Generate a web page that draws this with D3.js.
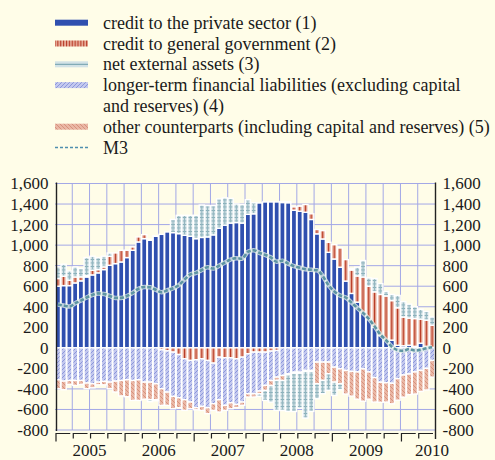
<!DOCTYPE html>
<html>
<head>
<meta charset="utf-8">
<script src="https://cdn.jsdelivr.net/npm/d3@7"></script>
<style>
  body { margin: 0; background: #fffde8; }
  svg { display: block; font-family: "Liberation Serif", "Times New Roman", serif; }
</style>
</head>
<body>
<div id="chart"></div>
<script>
// monthly annual flows, EUR billions, Jan 2005 - Jun 2010
let months = d3.timeMonth.range(new Date(2005, 0, 1), new Date(2010, 6, 1))
let yearLabels = [2005, 2006, 2007, 2008, 2009, 2010]
let yTicks = [-800, -600, -400, -200, 0, 200, 400, 600, 800, 1000, 1200, 1400, 1600]

let creditPrivate = [
  600, 606, 606, 632, 652, 690, 710, 730, 762, 804, 820, 836,
  879, 950, 1031, 1063, 1047, 1086, 1105, 1128, 1122, 1112, 1096, 1086,
  1063, 1075, 1080, 1100, 1165, 1195, 1215, 1220, 1215, 1300, 1305, 1410,
  1420, 1420, 1420, 1415, 1413, 1340, 1330, 1320, 1250, 1110, 1060, 930,
  865, 785, 650, 530, 445, 345, 280, 200, 120, 75, 75, 25,
  20, 25, 15, 45, 15, 5]
let creditGov = [
  75, 91, 52, 58, 39, 13, 45, 32, 26, 87, 104, 113,
  71, 32, 49, 39, 10, 5, -20, -30, -42, -65, -107, -123,
  -117, -107, -123, -149, -91, -97, -97, -107, -91, -58, -42, -42,
  -42, -32, -26, 10, 10, 32, 49, 75, 55, 42, 81, 97,
  139, 187, 209, 228, 255, 345, 320, 345, 400, 430, 385, 365,
  280, 265, 270, 235, 255, 215]
let netExternal = [
  113, 117, 91, 97, 81, 176, 137, 117, 104, 32, 0, 0,
  0, 0, 0, 0, -20, -10, 0, 0, 128, 178, 194, 204,
  227, 315, 305, 285, 285, 265, 240, 180, 180, 142, 107, -25,
  -97, -162, -292, -292, -356, -373, -340, -454, -389, -146, -130, -162,
  -130, -58, 0, 12, 85, 160, 80, 130, 105, 45, 60, 120,
  150, 135, 115, 95, 85, 80]
let longerTerm = [
  -311, -324, -318, -318, -318, -343, -350, -334, -327, -334, -324, -318,
  -311, -318, -311, -334, -334, -350, -378, -401, -431, -421, -398, -405,
  -466, -463, -460, -395, -414, -463, -438, -444, -437, -389, -405, -379,
  -324, -286, -259, -269, -253, -237, -237, -220, -220, -139, -139, -139,
  -188, -204, -220, -230, -235, -205, -235, -290, -335, -340, -345, -300,
  -265, -255, -235, -220, -200, -123]
let otherCp = [
  -87, -84, -38, -48, -38, -55, -39, -26, -33, -64, -106, -150,
  -165, -194, -201, -166, -170, -155, -162, -129, -120, -97, -104, -65,
  -20, -39, -58, -65, -120, -49, -58, -32, -32, -32, -32, -26,
  -49, -49, -32, -49, -10, -10, -10, -10, -10, -211, -178, -113,
  -146, -146, -230, -240, -265, -315, -265, -238, -195, -188, -200, -210,
  -215, -200, -215, -205, -210, -162]
let m3 = [
  421, 412, 402, 434, 460, 490, 515, 530, 525, 505, 486, 486,
  505, 535, 575, 592, 590, 565, 541, 560, 580, 610, 665, 715,
  730, 758, 785, 772, 800, 830, 860, 873, 868, 935, 950, 925,
  905, 880, 838, 849, 820, 795, 780, 765, 760, 755, 700, 610,
  550, 510, 490, 440, 390, 340, 282, 210, 130, 75, 10, -22,
  -30, -12, -26, -20, -5, 5]

let w = 495, h = 460
let padL = 55, padR = 435, plotTop = 183.5, plotBottom = 430

let table = months.map((m, i) => ({
  month: m,
  cps: creditPrivate[i], cgg: creditGov[i], nea: netExternal[i],
  ltfl: longerTerm[i], oth: otherCp[i]
}))

let svg = d3.select('#chart').append('svg')
  .attr('width', w).attr('height', h)
svg.append('rect').attr('width', w).attr('height', h).attr('fill', '#fffde8')

let x = d3.scaleBand().domain(months).range([padL, padR])
let y = d3.scaleLinear().domain([-800, 1600]).range([plotBottom, plotTop])
let step = x.step()

//#region patterns
let defs = svg.append('defs')
let pat = (id, pw, ph, px) => defs.append('pattern').attr('id', id)
  .attr('patternUnits', 'userSpaceOnUse')
  .attr('width', pw).attr('height', ph).attr('x', px || 0).attr('y', 0)

let p = pat('pCgg', step / 2, 4, padL + step / 2 - 0.55)
p.append('rect').attr('width', step / 2).attr('height', 4).attr('fill', '#e8ad9a')
p.append('rect').attr('width', 1.1).attr('height', 4).attr('fill', '#b83a26')

p = pat('pNea', step / 2, 3.5, padL + step / 2 - 0.5)
p.append('rect').attr('width', step / 2).attr('height', 3.5).attr('fill', '#d2e2e6')
p.append('rect').attr('width', step / 2).attr('height', 0.9).attr('fill', '#82abb6')
p.append('rect').attr('width', 1).attr('height', 3.5).attr('fill', '#92b5bf')

p = pat('pLtfl', 4, 4)
p.append('rect').attr('width', 4).attr('height', 4).attr('fill', '#c3c8ee')
p.append('path').attr('d', 'M-1,1L1,-1M0,4L4,0M3,5L5,3')
  .attr('stroke', '#6676cf').attr('stroke-width', 0.6)

p = pat('pOth', 4, 4)
p.append('rect').attr('width', 4).attr('height', 4).attr('fill', '#eab7a5')
p.append('path').attr('d', 'M-1,3L1,5M0,0L4,4M3,-1L5,1')
  .attr('stroke', '#c97762').attr('stroke-width', 0.6)
//#endregion

let fills = {
  cps: '#2f4faf', cgg: 'url(#pCgg)', nea: 'url(#pNea)',
  ltfl: 'url(#pLtfl)', oth: 'url(#pOth)'
}

//#region grid
svg.append('g').selectAll('line')
  .data(yTicks).enter().append('line')
  .attr('x1', padL).attr('x2', padR)
  .attr('y1', d => y(d)).attr('y2', d => y(d))
  .attr('stroke', '#a3a8e6').attr('stroke-width', 1)

let quarters = months.filter((m, i) => i % 3 === 0 && i > 0)
svg.append('g').selectAll('line')
  .data(quarters).enter().append('line')
  .attr('x1', d => x(d)).attr('x2', d => x(d))
  .attr('y1', plotTop).attr('y2', plotBottom)
  .attr('stroke', '#a3a8e6').attr('stroke-width', 1)
//#endregion

//#region bars
let stack = d3.stack()
  .keys(['cps', 'cgg', 'ltfl', 'oth', 'nea'])
  .offset(d3.stackOffsetDiverging)
let series = stack(table)

svg.append('g').selectAll('g')
  .data(series).enter().append('g')
  .attr('fill', s => fills[s.key])
  .selectAll('rect')
  .data(s => s.filter(d => d[1] !== d[0]))
  .enter().append('rect')
  .attr('x', d => x(d.data.month) + 0.3)
  .attr('width', step - 0.6)
  .attr('y', d => y(d[1]))
  .attr('height', d => y(d[0]) - y(d[1]))
  .attr('stroke', '#fff')
  .attr('stroke-width', 1.4)
//#endregion

//#region M3 line
let line = d3.line()
  .x((d, i) => x(months[i]) + step / 2)
  .y(d => y(d))
  .curve(d3.curveMonotoneX)

svg.append('path')
  .attr('d', line(m3))
  .attr('fill', 'none')
  .attr('stroke', '#e4efe9')
  .attr('stroke-width', 4.5)
  .attr('opacity', 0.8)
svg.append('path')
  .attr('d', line(m3))
  .attr('fill', 'none')
  .attr('stroke', '#5e95a3')
  .attr('stroke-width', 2.6)
  .attr('stroke-dasharray', '4,2')
//#endregion

//#region axes
let fmt = d => d3.format(',')(d).replace('\u2212', '-')
let yAxisL = d3.axisLeft(y).tickValues(yTicks).tickFormat(fmt).tickSize(0).tickPadding(8)
let yAxisR = d3.axisRight(y).tickValues(yTicks).tickFormat(fmt).tickSize(0).tickPadding(7)

let gl = svg.append('g').attr('transform', 'translate(56.5,0)').call(yAxisL)
let gr = svg.append('g').attr('transform', `translate(${padR + 0.5},0)`).call(yAxisR)
;[gl, gr].forEach(g => {
  g.select('.domain').remove()
  g.selectAll('text')
    .attr('font-family', '"Liberation Serif", "Times New Roman", serif')
    .attr('font-size', 17)
    .attr('fill', '#1a1a1a')
})
svg.append('line').attr('x1', 56.5).attr('x2', 56.5).attr('y1', plotTop - 1).attr('y2', plotBottom + 1)
  .attr('stroke', '#222').attr('stroke-width', 1.4)
svg.append('line').attr('x1', padR + 0.5).attr('x2', padR + 0.5).attr('y1', plotTop - 1).attr('y2', 439)
  .attr('stroke', '#222').attr('stroke-width', 1.4)

// quarterly ticks under the plot
let qTicks = months.filter((m, i) => i % 3 === 0)
svg.append('g').selectAll('path')
  .data(qTicks).enter().append('path')
  .attr('d', (d, i) => {
    let x0 = x(d) + 1
    let len = d.getMonth() === 0 ? 8 : 5
    let next = i < qTicks.length - 1 ? x(qTicks[i + 1]) : padR
    return `M${x0},${433.5 + len}V433.5H${next - 2}`
  })
  .attr('fill', 'none')
  .attr('stroke', '#222')
  .attr('stroke-width', 1.2)

svg.append('g').selectAll('text')
  .data(yearLabels).enter().append('text')
  .attr('x', d => x(new Date(d, 0, 1)) + step * 6 - (d === 2010 ? 3 : 0))
  .attr('y', 456)
  .attr('text-anchor', 'middle')
  .attr('font-size', 17)
  .attr('fill', '#1a1a1a')
  .text(d => d)
//#endregion

//#region legend
let legendItems = [
  { key: 'cps', lines: ['credit to the private sector (1)'] },
  { key: 'cgg', lines: ['credit to general government (2)'] },
  { key: 'nea', lines: ['net external assets (3)'] },
  { key: 'ltfl', lines: ['longer-term financial liabilities (excluding capital', 'and reserves) (4)'] },
  { key: 'oth', lines: ['other counterparts (including capital and reserves) (5)'] },
  { key: 'm3', lines: ['M3'] }
]
let rowY = 22.7
legendItems.forEach(item => {
  let g = svg.append('g')
  if (item.key === 'm3') {
    g.append('line').attr('x1', 55).attr('x2', 88).attr('y1', rowY).attr('y2', rowY)
      .attr('stroke', '#4f8fae').attr('stroke-width', 1.6).attr('stroke-dasharray', '3,2')
  } else if (item.key === 'nea') {
    g.append('rect').attr('x', 55).attr('y', rowY - 3).attr('width', 33).attr('height', 6)
      .attr('fill', '#d2e2e6')
    g.append('line').attr('x1', 55).attr('x2', 88).attr('y1', rowY).attr('y2', rowY)
      .attr('stroke', '#82abb6').attr('stroke-width', 1.3)
  } else {
    g.append('rect').attr('x', 55).attr('y', rowY - 3).attr('width', 33).attr('height', 6)
      .attr('fill', fills[item.key])
  }
  item.lines.forEach((t, j) => {
    g.append('text')
      .attr('x', 103).attr('y', rowY + 6 + j * 21)
      .attr('font-size', 18)
      .attr('fill', '#1a1a1a')
      .text(t)
  })
  rowY += 20.8 * item.lines.length
})
//#endregion
</script>
</body>
</html>
